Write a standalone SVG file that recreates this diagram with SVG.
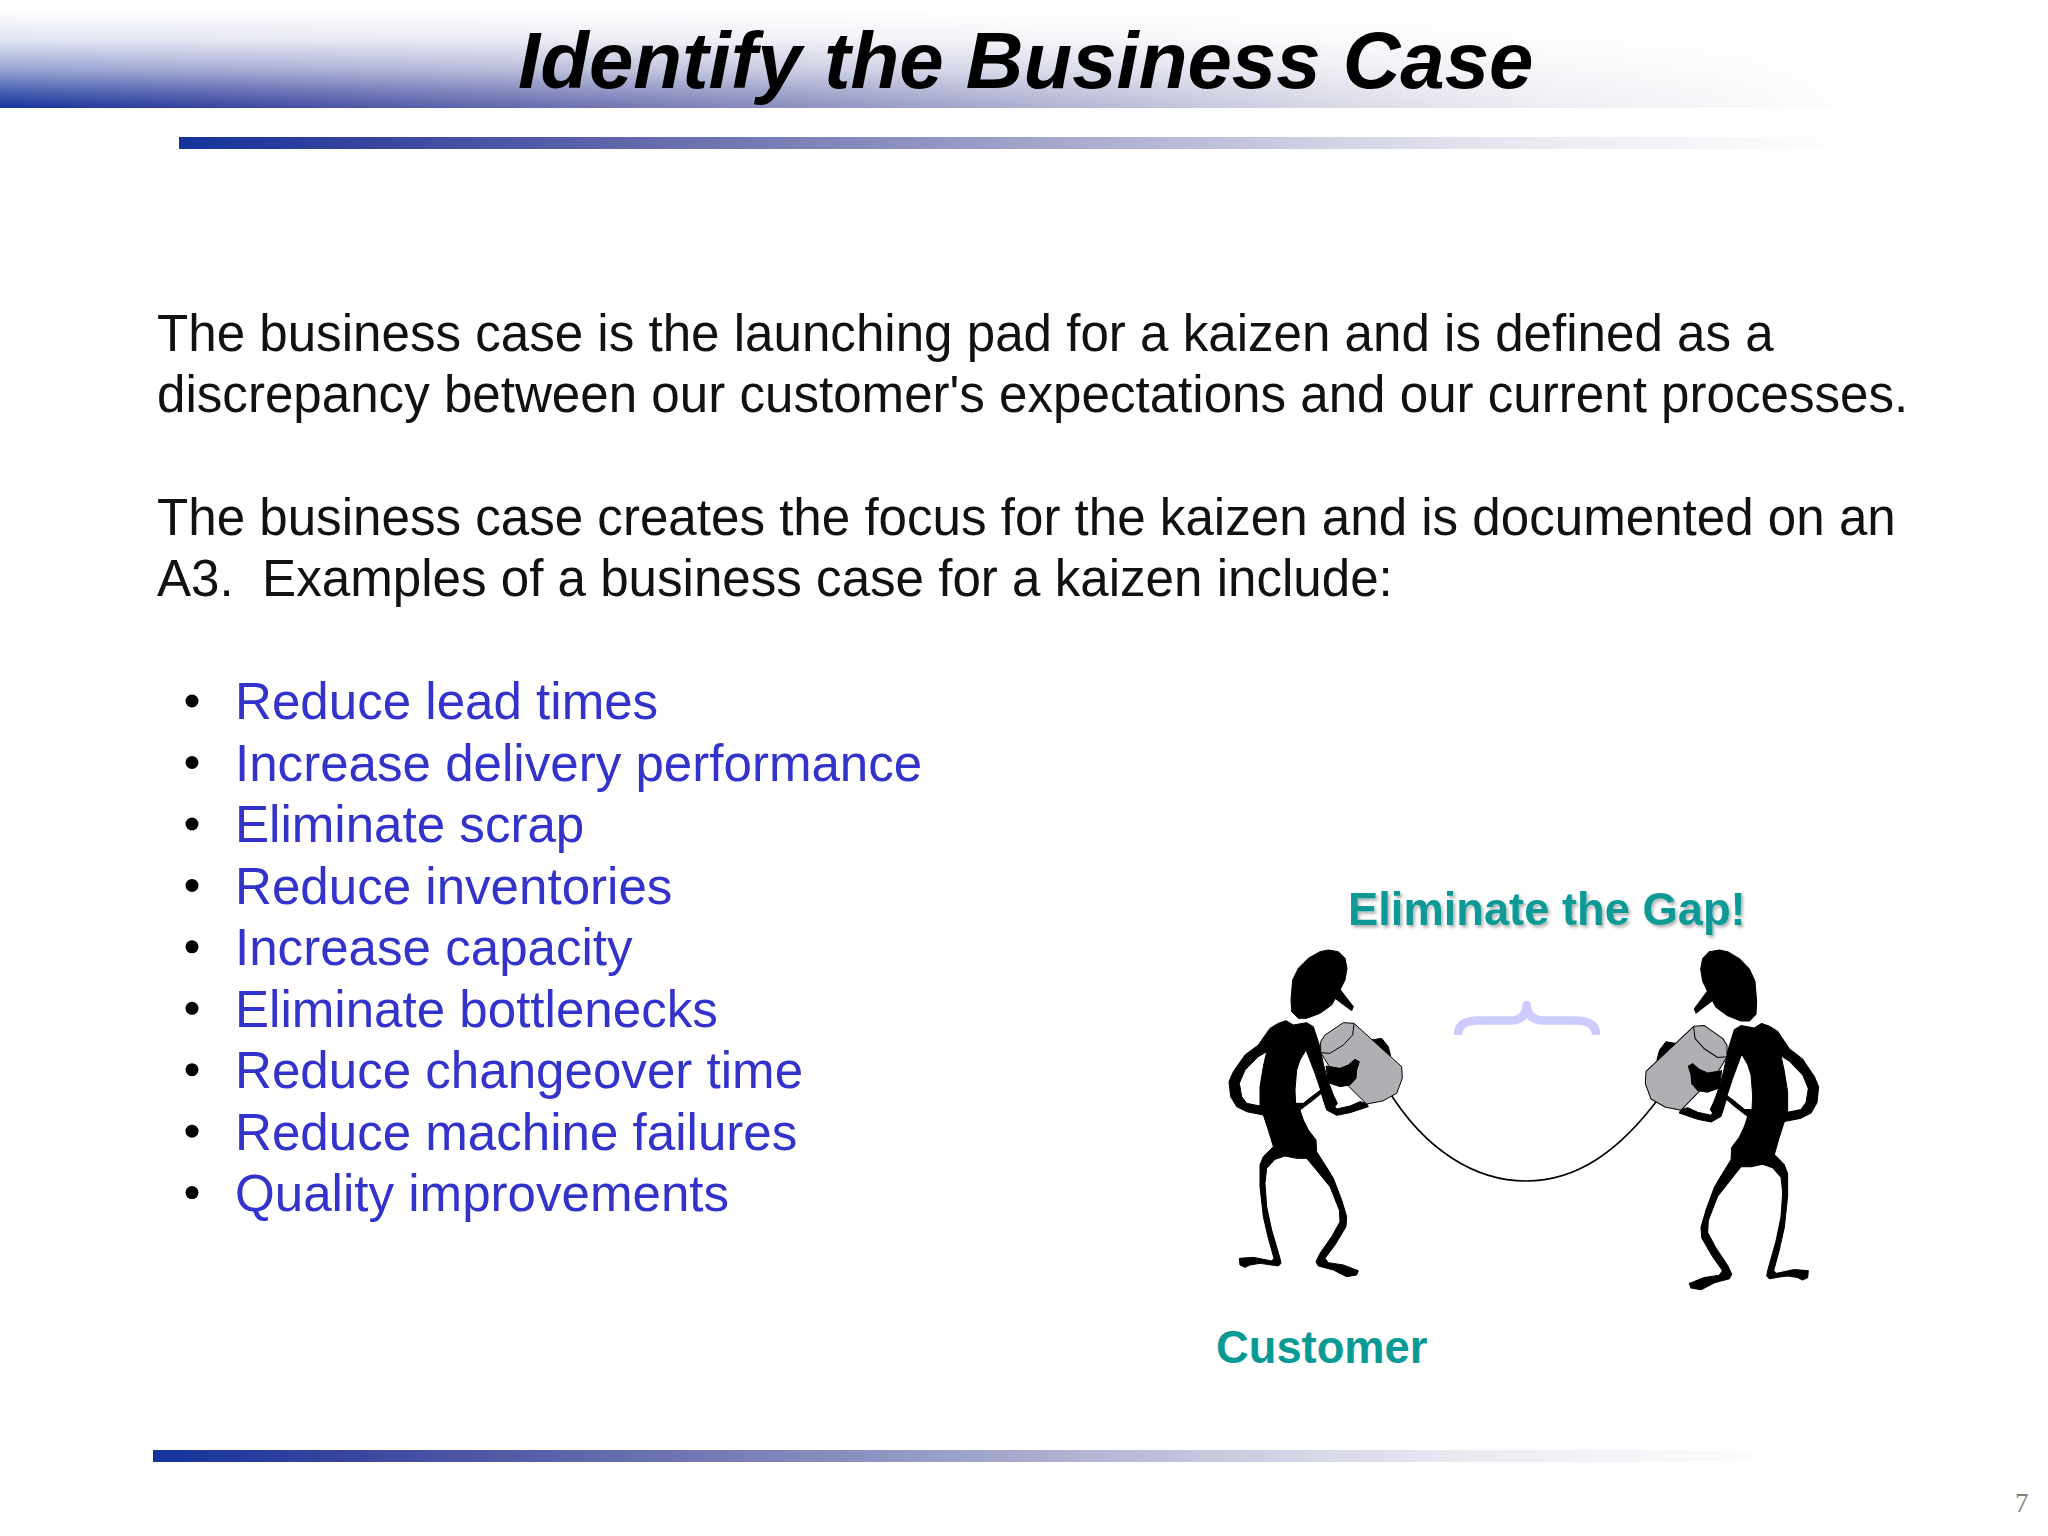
<svg xmlns="http://www.w3.org/2000/svg" xmlns:xlink="http://www.w3.org/1999/xlink" width="2048" height="1536" viewBox="0 0 2048 1536">
<style>
.body{font:51.12px "Liberation Sans",Arial,sans-serif;fill:#111;white-space:pre}
.item{font:51.1px "Liberation Sans",Arial,sans-serif;fill:#3333cc}
.title{font:italic bold 79.8px "Liberation Sans",Arial,sans-serif;fill:#000}
.teal{font:bold 45.3px "Liberation Sans",Arial,sans-serif;fill:#0a9a96}
.num{font:27px "Liberation Serif","Times New Roman",serif;fill:#808080}
.bul{fill:#000}
.ink{fill:#000;stroke:#000;stroke-width:3;stroke-linejoin:round}
</style>
<defs>
<linearGradient id="fade" x1="0" y1="0" x2="1" y2="0">
<stop offset="0" stop-color="#14339b"/><stop offset=".12" stop-color="#3a459f"/><stop offset=".3" stop-color="#6a6fae"/><stop offset=".7" stop-color="#d5d6e5"/><stop offset=".82" stop-color="#ecedf3"/><stop offset="1" stop-color="#ffffff"/>
</linearGradient>
<linearGradient id="veil" x1="0" y1="0" x2="0" y2="1">
<stop offset="0" stop-color="#fff" stop-opacity="1"/><stop offset=".09" stop-color="#fff" stop-opacity="1"/><stop offset=".37" stop-color="#fff" stop-opacity=".87"/><stop offset=".65" stop-color="#fff" stop-opacity=".55"/><stop offset=".83" stop-color="#fff" stop-opacity=".25"/><stop offset="1" stop-color="#fff" stop-opacity="0"/>
</linearGradient>
<filter id="shadow" x="-5%" y="-20%" width="110%" height="150%"><feDropShadow dx="2" dy="2.5" stdDeviation="1.5" flood-color="#000" flood-opacity=".3"/></filter>
<g id="person">
<path class="ink" d="M385,60L415,65L435,85L441,115L435,150L420,180L395,225L360,250L320,265L295,265L275,245L273,210L278,150L295,115L325,85L360,65Z"/>
<path class="ink" d="M420,178L460,230L455,242L405,205Z"/>
<path class="ink" fill-rule="evenodd" d="M258,272L280,285L320,278L340,290L358,345L372,410L385,455L400,495L412,520L405,530L410,537L450,528L480,515L500,520L505,530L450,548L410,556L380,540L370,510L364,490L340,510L300,540L310,570L325,600L348,630L350,665L385,720L400,745L425,810L440,860L438,890L405,945L375,985L385,998L430,1005L475,1022L470,1035L440,1040L400,1020L355,1008L348,995L360,970L395,920L420,875L418,840L390,770L345,715L320,685L290,685L255,678L225,688L200,715L195,760L200,830L215,900L240,985L243,1000L235,1008L180,1000L150,1005L135,1012L120,1005L118,985L160,982L215,993L222,985L205,925L190,860L180,770L180,705L190,680L220,650L205,600L190,555L140,545L110,530L92,500L87,455L100,425L135,375L175,345L210,295L235,280Z M200,365L175,380L135,420L118,460L125,500L140,520L180,528L180,470L190,410Z M318,360L345,430L362,480L335,500L310,520L287,520L285,480L290,420L300,390Z"/>
<path class="ink" d="M515,330L545,325L565,350L572,378Z"/>
<path d="M362,335L375,315L430,278L462,280L605,410L607,445L590,490L548,513L500,522L445,468L385,405L362,368Z" fill="#b0afb3" stroke="#000" stroke-width="3" stroke-linejoin="round"/>
<path d="M462,282L458,315L430,345L390,370L362,368" fill="none" stroke="#000" stroke-width="3" stroke-linejoin="round"/>
<path class="ink" d="M378,408L420,415L445,405L465,388L478,395L470,420L468,445L450,465L420,470L385,458Z"/>
</g>
</defs>
<rect width="2048" height="1536" fill="#fff"/>

<g id="header">
<rect x="0" y="0" width="1870" height="108" fill="url(#fade)"/>
<rect x="0" y="0" width="1870" height="108" fill="url(#veil)"/>
<text class="title" x="518" y="88">Identify the Business Case</text>
</g>
<rect id="rule-top" x="179" y="137" width="1681" height="12" fill="url(#fade)"/>

<g id="intro">
<text class="body" x="157" y="351">The business case is the launching pad for a kaizen and is defined as a</text>
<text class="body" x="157" y="412">discrepancy between our customer's expectations and our current processes.</text>
<text class="body" x="157" y="535">The business case creates the focus for the kaizen and is documented on an</text>
<text class="body" x="157" y="596">A3.  Examples of a business case for a kaizen include:</text>
</g>

<g id="examples">
<circle class="bul" cx="192" cy="701" r="6.5"/><text class="item" x="235" y="719.3">Reduce lead times</text>
<circle class="bul" cx="192" cy="762.5" r="6.5"/><text class="item" x="235" y="780.8">Increase delivery performance</text>
<circle class="bul" cx="192" cy="824" r="6.5"/><text class="item" x="235" y="842.2">Eliminate scrap</text>
<circle class="bul" cx="192" cy="885.4" r="6.5"/><text class="item" x="235" y="903.7">Reduce inventories</text>
<circle class="bul" cx="192" cy="946.8" r="6.5"/><text class="item" x="235" y="965.1">Increase capacity</text>
<circle class="bul" cx="192" cy="1008.3" r="6.5"/><text class="item" x="235" y="1026.6">Eliminate bottlenecks</text>
<circle class="bul" cx="192" cy="1069.7" r="6.5"/><text class="item" x="235" y="1088">Reduce changeover time</text>
<circle class="bul" cx="192" cy="1131.2" r="6.5"/><text class="item" x="235" y="1149.5">Reduce machine failures</text>
<circle class="bul" cx="192" cy="1192.6" r="6.5"/><text class="item" x="235" y="1210.9">Quality improvements</text>
</g>

<g id="gap-label"><text class="teal" x="1348" y="925" filter="url(#shadow)">Eliminate the Gap!</text></g>
<g id="customer-label"><text class="teal" x="1216" y="1363">Customer</text></g>

<g id="connectors">
<path d="M1388,1090C1425,1150 1475,1181 1526,1181C1578,1181 1620,1150 1659,1098" fill="none" stroke="#000" stroke-width="1.6"/>
<path d="M1458,1035C1458,1025 1465,1020.5 1478,1020.5L1510,1020.5C1520,1020.5 1526,1016 1526.7,1005C1527.5,1016 1534,1020.5 1544,1020.5L1576,1020.5C1589,1020.5 1596,1025 1596,1035" fill="none" stroke="#ccccff" stroke-width="8.5" stroke-linejoin="round"/>
</g>

<g id="customer-figure"><use xlink:href="#person" href="#person" transform="translate(1200,930) scale(.33333)"/></g>
<g id="supplier-figure"><use xlink:href="#person" href="#person" transform="translate(1540,930) scale(.33333) translate(923,-2.4) scale(-1,1.04)"/></g>

<rect id="rule-bottom" x="153" y="1450" width="1637" height="12" fill="url(#fade)"/>
<text class="num" x="2015" y="1512">7</text>
</svg>
